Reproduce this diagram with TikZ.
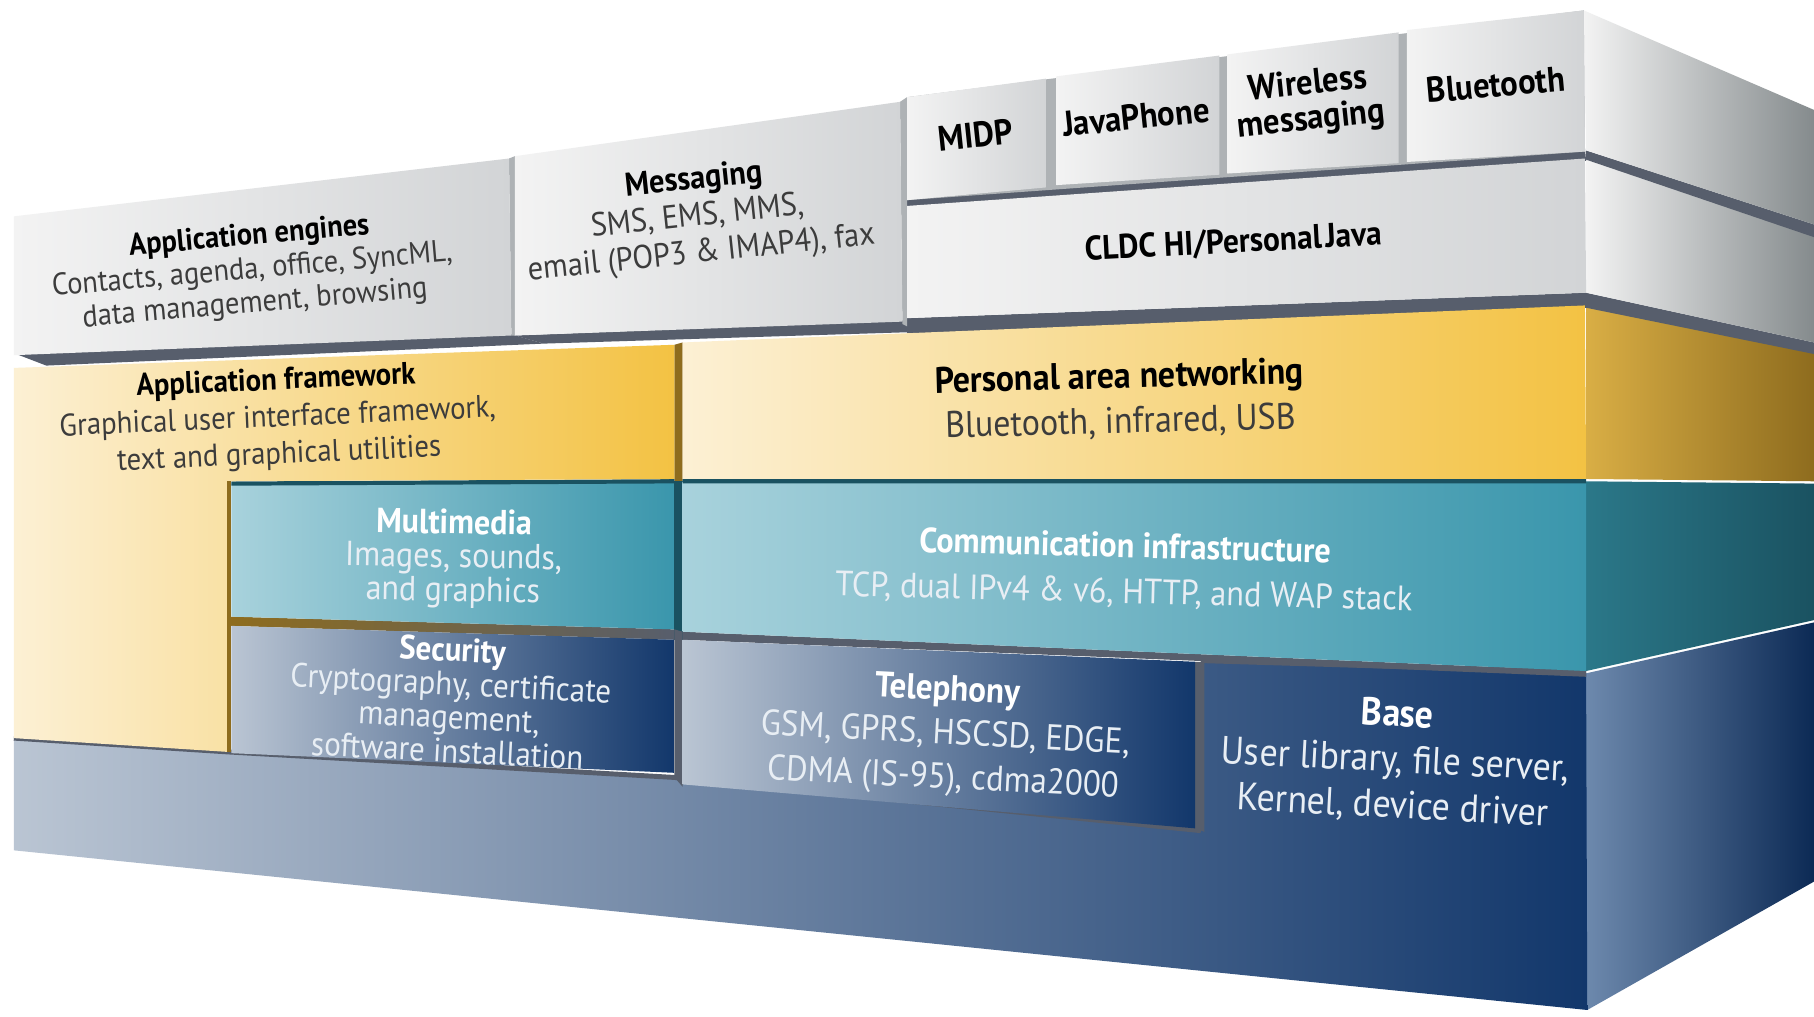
\documentclass[tikz,border=0pt]{standalone}
\usepackage{fontspec}
\setmainfont{PT Sans}[FakeStretch=0.92]
\usepackage{tikz}
\definecolor{OSGrayLt}{HTML}{F3F3F3}
\definecolor{OSGray}{HTML}{D2D4D6}
\definecolor{OSGrayMid}{HTML}{AEB2B5}
\definecolor{OSGraySide}{HTML}{858B8D}
\definecolor{OSSlate}{HTML}{575E6C}
\definecolor{OSCream}{HTML}{FCF0D4}
\definecolor{OSGold}{HTML}{F3C243}
\definecolor{OSGoldSide}{HTML}{D9AE45}
\definecolor{OSGoldDk}{HTML}{8E6C1E}
\definecolor{OSTealLt}{HTML}{A8D2DC}
\definecolor{OSTeal}{HTML}{3A96AC}
\definecolor{OSTealSide}{HTML}{2B7889}
\definecolor{OSTealDk}{HTML}{1A5261}
\definecolor{OSBlueLt}{HTML}{BAC5D3}
\definecolor{OSBlueMid}{HTML}{60799A}
\definecolor{OSNavy}{HTML}{12376B}
\definecolor{OSNavySide}{HTML}{6D89AD}
\definecolor{OSNavyDk}{HTML}{0C2A55}
\definecolor{OSInk}{HTML}{3C3C3C}
\definecolor{OSMist}{HTML}{E8EEF4}

\newcommand{\darktitle}[1]{{\color{black}\textbf{#1}}}
\newcommand{\lighttitle}[1]{{\color{white}\textbf{#1}}}

\tikzset{
  lbldark/.style={align=center,inner sep=0pt,text=OSInk},
  lbllight/.style={align=center,inner sep=0pt,text=OSMist},
  graybox/.style={left color=OSGrayLt,right color=OSGray},
  grayside/.style={left color=OSGrayLt,right color=OSGraySide},
  navybox/.style={left color=OSBlueLt,middle color=OSBlueMid,right color=OSNavy},
}

\begin{document}
\begin{tikzpicture}[x=0.011569cm,y=-0.011569cm]
\path[use as bounding box] (0,0) rectangle (1568,879);
\fill[white] (0,0) rectangle (1568,879);
% side faces
\shade[left color=OSNavySide,right color=OSNavyDk] (1371,582) -- (1568,538) -- (1568,762) -- (1372,873) -- cycle;
\shade[left color=OSTealSide,right color=OSTealDk] (1371,416) -- (1568,418) -- (1568,536) -- (1371,580) -- cycle;
\shade[left color=OSGoldSide,right color=OSGoldDk] (1371,264) -- (1568,305) -- (1568,416) -- (1371,414) -- cycle;
\fill[OSSlate] (1371,253) -- (1568,296) -- (1568,306) -- (1371,266) -- cycle;
\shade[grayside] (1371,137) -- (1568,204) -- (1568,296) -- (1371,253) -- cycle;
\fill[OSSlate] (1371,130) -- (1568,194) -- (1568,205) -- (1371,138) -- cycle;
\shade[grayside] (1369,9) -- (1568,95) -- (1568,194) -- (1371,130) -- cycle;
% base
\shade[navybox] (12,638) -- (198,650) -- (583,672) -- (1038,718) -- (1038,572) -- (1371,582) -- (1372,873) -- (12,735) -- cycle;
\draw[OSSlate,line width=1.4pt] (12,638) -- (198,650) -- (583,672) -- (1038,718);
\draw[OSSlate,line width=1.4pt] (1038,571) -- (1371,581);
% gaps and undersides
\fill[OSSlate] (14,306) -- (442,289) -- (470,297) -- (40,316) -- cycle;
\fill[OSSlate] (445,290) -- (780,277) -- (790,287) -- (470,297) -- cycle;
\fill[OSSlate] (784,275) -- (1371,253) -- (1371,266) -- (784,289) -- cycle;
\fill[OSSlate] (784,170) -- (1370,128) -- (1371,139) -- (784,181) -- cycle;
\fill[OSGrayMid] (440,137) -- (445,135) -- (445,290) -- (442,290) -- cycle;
\fill[OSGrayMid] (778,88) -- (784,84) -- (784,282) -- (780,280) -- cycle;
\fill[OSGrayMid] (784,84) -- (1369,9) -- (1370,131) -- (784,173) -- cycle;
\fill[OSGoldDk] (583,298) -- (590,296) -- (590,416) -- (583,416) -- cycle;
\fill[OSTealDk] (583,416) -- (590,416) -- (590,553) -- (583,553) -- cycle;
\fill[OSSlate] (583,544) -- (590,546) -- (590,680) -- (583,672) -- cycle;
\fill[OSSlate] (590,546) -- (1371,580) -- (1371,585) -- (590,553) -- cycle;
\shade[left color=OSGoldDk,right color=OSSlate] (200,533) -- (583,544) -- (583,553) -- (200,541) -- cycle;
\fill[OSSlate] (1033,572) -- (1041,572) -- (1041,719) -- (1033,716) -- cycle;
% blue and teal faces
\shade[navybox] (590,553) -- (1033,572) -- (1033,716) -- (590,678) -- cycle;
\shade[navybox] (200,541) -- (583,553) -- (583,668) -- (200,651) -- cycle;
\shade[left color=OSTealLt,right color=OSTeal] (200,418) -- (583,416) -- (583,544) -- (200,533) -- cycle;
\shade[left color=OSTealLt,right color=OSTeal] (590,416) -- (1371,416) -- (1371,580) -- (590,546) -- cycle;
\draw[OSTealDk,line width=1.2pt] (200,418) -- (583,416) (590,416) -- (1371,416);
% yellow faces
\shade[left color=OSCream,right color=OSGold] (12,318) -- (583,298) -- (583,414) -- (198,416) -- (198,650) -- (12,638) -- cycle;
\draw[OSGoldDk,line width=1pt] (198,416) -- (198,650);
\shade[left color=OSCream,right color=OSGold] (590,296) -- (1370,264) -- (1371,414) -- (590,414) -- cycle;
% gray faces
\shade[graybox] (12,187) -- (440,137) -- (442,290) -- (12,307) -- cycle;
\shade[graybox] (445,135) -- (778,88) -- (780,278) -- (445,290) -- cycle;
\shade[graybox] (784,178) -- (1370,137) -- (1371,253) -- (784,275) -- cycle;
\shade[graybox] (784,84) -- (904,68) -- (904,162) -- (784,173) -- cycle;
\shade[graybox] (913,66) -- (1054,48) -- (1054,151) -- (913,160) -- cycle;
\shade[graybox] (1061,47) -- (1209,28) -- (1209,141) -- (1061,150) -- cycle;
\shade[graybox] (1216,26) -- (1369,9) -- (1370,131) -- (1216,140) -- cycle;
% labels
\node[lbldark,rotate=5,font=\fontsize{8.8}{9.6}\selectfont] (engines) at (218,234) {\darktitle{Application engines}\\Contacts, agenda, office, SyncML,\\data management, browsing};
\node[lbldark,rotate=6,font=\fontsize{9.4}{10.5}\selectfont] (messaging) at (603,188) {\darktitle{Messaging}\\SMS, EMS, MMS,\\email (POP3 \& IMAP4), fax};
\node[lbldark,rotate=6,font=\bfseries\fontsize{10.1}{10}\selectfont,text=black] (midp) at (843,117) {MIDP};
\node[lbldark,rotate=6,font=\bfseries\fontsize{10.1}{10}\selectfont,text=black] (javaphone) at (982,101) {JavaPhone};
\node[lbldark,rotate=6,font=\bfseries\fontsize{10.1}{10}\selectfont,text=black] (wireless) at (1132,89) {Wireless\\messaging};
\node[lbldark,rotate=5,font=\bfseries\fontsize{10.1}{10}\selectfont,text=black] (bluetooth) at (1293,73) {Bluetooth};
\node[lbldark,rotate=3,font=\bfseries\fontsize{9.7}{11}\selectfont,text=black] (cldc) at (1066,210) {CLDC HI/Personal\kern1pt Java};
\node[lbldark,rotate=2.5,font=\fontsize{8.9}{10.5}\selectfont] (framework) at (240,362) {\darktitle{Application framework}\\Graphical user interface framework,\\text and graphical utilities};
\node[lbldark,rotate=1.5,font=\fontsize{10.5}{12.8}\selectfont] (pan) at (968,346) {\darktitle{Personal area networking}\\Bluetooth, infrared, USB};
\node[lbllight,rotate=-1,font=\fontsize{9.9}{9.6}\selectfont] (multimedia) at (392,483) {\lighttitle{Multimedia}\\Images, sounds,\\and graphics};
\node[lbllight,rotate=-1.5,font=\fontsize{10}{13}\selectfont] (comms) at (972,493) {\lighttitle{Communication infrastructure}\\TCP, dual IPv4 \& v6, HTTP, and WAP stack};
\node[lbllight,rotate=-3,font=\fontsize{9.6}{9.6}\selectfont] (security) at (389,605) {\lighttitle{Security}\\Cryptography, certificate\\management,\\software installation};
\node[lbllight,rotate=-3,font=\fontsize{10.2}{12.5}\selectfont] (telephony) at (817,636) {\lighttitle{Telephony}\\GSM, GPRS, HSCSD, EDGE,\\CDMA (IS-95), cdma2000};
\node[lbllight,rotate=-3,font=\fontsize{11.1}{13}\selectfont] (base) at (1206,658) {\lighttitle{Base}\\User library, file server,\\Kernel, device driver};
\end{tikzpicture}
\end{document}
